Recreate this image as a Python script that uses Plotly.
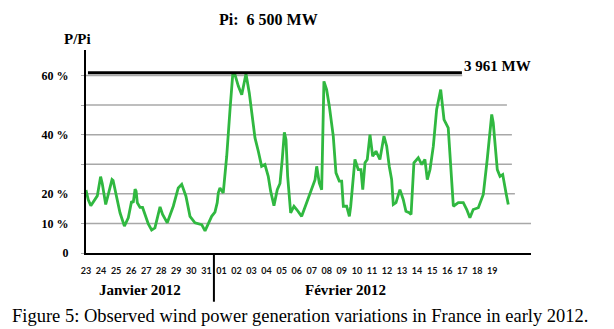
import plotly.graph_objects as go

# Wind output as a share of installed capacity (P/Pi, %), 23 Jan - 19 Feb 2012.
# x = days elapsed since 23 January 2012 00:00
days = [
    0.00, 0.15, 0.32, 0.60, 0.75, 0.97, 1.08, 1.31, 1.55, 1.73, 1.80, 1.99,
    2.26, 2.55, 2.81, 3.03, 3.14, 3.26, 3.33, 3.41, 3.59, 3.76, 3.92, 4.14,
    4.36, 4.58, 4.92, 5.09, 5.40, 5.80, 6.13, 6.36, 6.64, 6.91, 7.24, 7.69,
    7.91, 8.19, 8.35, 8.57, 8.72, 8.79, 8.90, 9.12, 9.35, 9.57, 9.75, 9.90,
    10.12, 10.35, 10.50, 10.63, 10.85, 11.08, 11.23, 11.45, 11.67, 11.89,
    12.11, 12.27, 12.49, 12.71, 12.89, 13.04, 13.18, 13.29, 13.40, 13.60,
    13.82, 14.00, 14.33, 14.66, 14.88, 15.22, 15.33, 15.50, 15.66, 15.73,
    15.81, 15.99, 16.17, 16.43, 16.61, 16.83, 16.99, 17.10, 17.32, 17.50,
    17.59, 17.87, 18.09, 18.27, 18.39, 18.54, 18.69, 18.87, 19.05, 19.27,
    19.53, 19.80, 19.98, 20.15, 20.31, 20.42, 20.60, 20.86, 21.08, 21.26,
    21.48, 21.60, 21.79, 22.08, 22.31, 22.52, 22.68, 22.86, 23.08, 23.30,
    23.57, 23.79, 24.07, 24.41, 24.74, 25.07, 25.30, 25.51, 25.73, 26.07,
    26.40, 26.66, 26.96, 27.06, 27.33, 27.51, 27.69, 27.91, 28.06,
]
p_over_pi = [
    21.3, 18.0, 16.0, 18.1, 19.3, 25.8, 23.5, 16.4, 21.4, 24.8, 24.5, 20.3,
    13.6, 9.1, 11.9, 17.5, 17.0, 21.6, 20.9, 17.0, 15.4, 15.4, 13.0, 9.8,
    7.8, 8.5, 15.6, 13.0, 10.2, 15.8, 22.0, 23.2, 19.2, 12.4, 10.2, 9.6,
    7.5, 10.4, 12.4, 13.8, 17.0, 20.3, 22.0, 20.3, 32.7, 48.5, 60.3, 60.3,
    56.4, 53.5, 57.5, 60.6, 54.1, 45.1, 38.9, 34.4, 29.3, 29.9,
    25.9, 20.9, 16.0, 21.4, 23.5, 31.6, 40.8, 38.3, 25.9, 13.6,
    15.8, 14.7, 12.4, 17.0, 20.3, 24.8, 29.3, 23.7, 21.4, 42.8,
    58.0, 55.2, 49.6, 39.5, 27.1, 24.3, 24.3, 15.8, 15.8, 12.4,
    15.8, 31.6, 28.2, 28.2, 21.4, 30.5, 31.6, 40.0, 32.7, 34.4,
    31.6, 39.5, 36.1, 29.3, 24.8, 16.4, 17.0, 21.4, 18.1, 14.1,
    13.6, 13.0, 30.5, 32.2, 29.9, 31.6, 24.8, 28.2, 36.1, 48.5,
    55.2, 45.1, 42.3, 15.8, 17.0, 17.0, 14.7, 11.9, 14.7, 15.3,
    19.8, 31.6, 46.8, 44.0, 28.2, 25.9, 26.5, 20.3, 16.4,
]

day_labels = ["23", "24", "25", "26", "27", "28", "29", "30", "31",
              "01", "02", "03", "04", "05", "06", "07", "08", "09", "10",
              "11", "12", "13", "14", "15", "16", "17", "18", "19"]
month_labels = ["Janvier 2012", "Février 2012"]

installed_mw = 6500
peak_mw = 3961
peak_share = peak_mw / installed_mw * 100

y_ticks = [0, 10, 20, 30, 40, 50, 60]
y_ticktext = ["0", "10 %", "20 %", "", "40 %", "", "60 %"]
# horizontal reference lines: level (%) and where each stops (days)
grid_levels = [10, 20, 30, 40, 50, 60]
grid_ends = [29.57, 28.5, 28.3, 28.3, 27.97, 25.0]

X_RANGE = [0, 29.57]
Y_RANGE = [0, 68.6]
month_break = 8.5  # midnight between 31 Jan and 01 Feb on the label grid

SERIF = "Liberation Serif, Times New Roman, serif"

fig = go.Figure()

fig.add_trace(go.Scatter(
    x=days, y=p_over_pi, mode="lines",
    line=dict(color="#30b840", width=2.8),
    hoverinfo="skip", showlegend=False,
))

shapes = []
for lvl, end in zip(grid_levels, grid_ends):
    shapes.append(dict(type="line", xref="x", yref="y", x0=0, x1=end,
                       y0=lvl, y1=lvl, layer="below",
                       line=dict(color="#a8a8a8", width=1.5)))
# record output line
shapes.append(dict(type="line", xref="x", yref="y", x0=0.13, x1=24.98,
                   y0=peak_share, y1=peak_share,
                   line=dict(color="black", width=3)))
# separator between the two months, running below the axis
break_px = (month_break - X_RANGE[0]) / (X_RANGE[1] - X_RANGE[0])
shapes.append(dict(type="line", xref="paper", yref="paper",
                   x0=break_px, x1=break_px, y0=0, y1=-0.24,
                   line=dict(color="black", width=2)))


def note(text, x, y, size, bold=True, xref="paper", yref="paper", xanchor="center"):
    return dict(text=f"<b>{text}</b>" if bold else text, xref=xref, yref=yref,
                x=x, y=y, xanchor=xanchor, yanchor="middle", showarrow=False,
                font=dict(family=SERIF, size=size, color="black"))


annotations = [
    note("Pi:  6 500 MW", 0.409, 1.148, 16),
    note("P/Pi", -0.018, 1.054, 15),
    note("3 961 MW", 24.98, 63.3, 15, xref="x", yref="y", xanchor="left"),
    note(month_labels[0], 0.121, -0.182, 15),
    note(month_labels[1], 0.584, -0.182, 15),
    note("Figure 5: Observed wind power generation variations in France in early 2012.",
         0.481, -0.31, 18.5, bold=False),
]

fig.update_layout(
    width=614, height=329,
    margin=dict(l=86, r=83, t=50, b=76),
    paper_bgcolor="white", plot_bgcolor="white",
    shapes=shapes, annotations=annotations,
    showlegend=False,
)

fig.update_xaxes(
    range=X_RANGE, tickmode="array",
    tickvals=list(range(len(day_labels))), ticktext=day_labels,
    showgrid=False, zeroline=False,
    showline=True, linecolor="black", linewidth=2,
    ticks="", ticklabelstandoff=8,
    tickfont=dict(family="Lato, Arial, sans-serif", size=9,
                  color="#111111", weight="bold"),
)
fig.update_yaxes(
    range=Y_RANGE, tickmode="array",
    tickvals=y_ticks, ticktext=y_ticktext,
    showgrid=False, zeroline=False,
    showline=True, linecolor="black", linewidth=2,
    ticks="outside", ticklen=3, tickcolor="#a8a8a8", tickwidth=1,
    ticklabelstandoff=10,
    tickfont=dict(family=SERIF, size=12, color="black", weight="bold"),
)

fig.write_html("out.html")
